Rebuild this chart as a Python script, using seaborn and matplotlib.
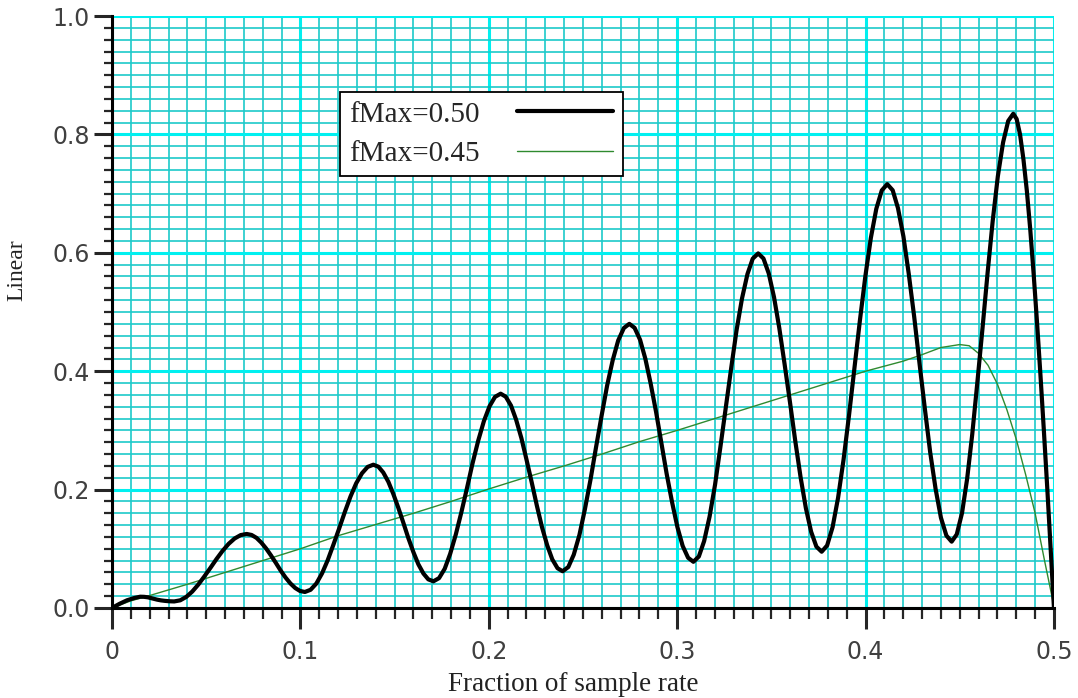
import numpy as np
import pandas as pd
import matplotlib
matplotlib.use('Agg')
import matplotlib.pyplot as plt
from matplotlib.ticker import MultipleLocator, FixedLocator
import seaborn as sns

# fMax=0.50 response (peaks, troughs and points between them)
black_x = [0, 0.002, 0.004, 0.006, 0.008, 0.010, 0.012, 0.0135, 0.015, 0.017, 0.019, 0.0215, 0.024, 0.026, 0.028, 0.0305,
           0.0330, 0.0362, 0.0394, 0.0426, 0.0458, 0.0490, 0.0523, 0.0555, 0.0587, 0.0619, 0.0651, 0.0683, 0.0715,
           0.0741, 0.0767, 0.0792, 0.0818, 0.0844, 0.0870, 0.0895, 0.0921, 0.0947, 0.0973, 0.0998, 0.1024,
           0.1054, 0.1085, 0.1115, 0.1145, 0.1175, 0.1206, 0.1236, 0.1266, 0.1296, 0.1327, 0.1357, 0.1387,
           0.1414, 0.1440, 0.1467, 0.1493, 0.1520, 0.1547, 0.1573, 0.1600, 0.1626, 0.1653, 0.1679, 0.1706,
           0.1736, 0.1766, 0.1795, 0.1825, 0.1855, 0.1885, 0.1914, 0.1944, 0.1974, 0.2004, 0.2033, 0.2063,
           0.2090, 0.2118, 0.2145, 0.2173, 0.2200, 0.2228, 0.2255, 0.2282, 0.2310, 0.2337, 0.2365, 0.2392,
           0.2422, 0.2451, 0.2481, 0.2510, 0.2540, 0.2569, 0.2599, 0.2628, 0.2658, 0.2687, 0.2717, 0.2746,
           0.2774, 0.2803, 0.2831, 0.2859, 0.2888, 0.2916, 0.2944, 0.2973, 0.3001, 0.3029, 0.3058, 0.3086,
           0.3115, 0.3143, 0.3172, 0.3201, 0.3229, 0.3258, 0.3287, 0.3315, 0.3344, 0.3373, 0.3401, 0.3430,
           0.3458, 0.3486, 0.3514, 0.3542, 0.3570, 0.3599, 0.3627, 0.3655, 0.3683, 0.3711, 0.3739, 0.3767,
           0.3796, 0.3825, 0.3854, 0.3883, 0.3912, 0.3941, 0.3970, 0.3999, 0.4028, 0.4057, 0.4086, 0.4115,
           0.4144, 0.4172, 0.4201, 0.4229, 0.4258, 0.4286, 0.4315, 0.4343, 0.4372, 0.4400, 0.4429, 0.4457,
           0.4484, 0.4512, 0.4539, 0.4566, 0.4593, 0.4621, 0.4648, 0.4675, 0.4702, 0.4730, 0.4757, 0.4784,
           0.4802, 0.4820, 0.4838, 0.4856, 0.4874, 0.4892, 0.4910, 0.4928, 0.4946, 0.4964, 0.4982, 0.5000]
black_y = [0, 0.0035, 0.007, 0.010, 0.013, 0.015, 0.017, 0.018, 0.019, 0.0188, 0.018, 0.016, 0.014, 0.0128, 0.012, 0.0113,
           0.011, 0.0129, 0.0186, 0.0277, 0.0395, 0.0532, 0.068, 0.0828, 0.0965, 0.1083, 0.1174, 0.1231, 0.125,
           0.1233, 0.1184, 0.1106, 0.1005, 0.0887, 0.076, 0.0633, 0.0515, 0.0414, 0.0336, 0.0287, 0.027,
           0.0307, 0.0414, 0.0585, 0.0807, 0.1067, 0.1345, 0.1623, 0.1883, 0.2105, 0.2276, 0.2383, 0.242,
           0.2387, 0.2288, 0.2131, 0.1928, 0.169, 0.1435, 0.118, 0.0942, 0.0739, 0.0582, 0.0483, 0.045,
           0.0504, 0.0662, 0.0914, 0.1242, 0.1624, 0.2035, 0.2446, 0.2828, 0.3156, 0.3408, 0.3566, 0.362,
           0.3569, 0.3419, 0.3181, 0.287, 0.2509, 0.212, 0.1731, 0.137, 0.1059, 0.0821, 0.0671, 0.062,
           0.0691, 0.090, 0.1232, 0.1665, 0.2169, 0.271, 0.3251, 0.3755, 0.4188, 0.452, 0.4729, 0.480,
           0.4732, 0.4531, 0.4211, 0.3795, 0.3311, 0.279, 0.2269, 0.1785, 0.1369, 0.1049, 0.0848, 0.078,
           0.0869, 0.1129, 0.1543, 0.2082, 0.271, 0.3385, 0.406, 0.4688, 0.5227, 0.5641, 0.5901, 0.599,
           0.5904, 0.5652, 0.5252, 0.473, 0.4123, 0.347, 0.2817, 0.221, 0.1688, 0.1288, 0.1036, 0.095,
           0.1056, 0.1366, 0.186, 0.2502, 0.3251, 0.4055, 0.4859, 0.5608, 0.625, 0.6744, 0.7054, 0.716,
           0.7057, 0.6755, 0.6275, 0.565, 0.4922, 0.414, 0.3358, 0.263, 0.2005, 0.1525, 0.1223, 0.112,
           0.1243, 0.1604, 0.2179, 0.2927, 0.3799, 0.4735, 0.5671, 0.6543, 0.7291, 0.7866, 0.8227, 0.835,
           0.826, 0.800, 0.758, 0.705, 0.640, 0.565, 0.483, 0.395, 0.302, 0.205, 0.104, 0.0]

# fMax=0.45 response
green_x = [0, 0.01, 0.02, 0.04, 0.06, 0.08, 0.10, 0.12, 0.14, 0.16, 0.18, 0.20,
           0.22, 0.24, 0.26, 0.28, 0.30, 0.32, 0.34, 0.36, 0.38, 0.40, 0.42,
           0.43, 0.44, 0.45, 0.455, 0.46, 0.465, 0.47, 0.475, 0.48, 0.485,
           0.49, 0.495, 0.5]
green_y = [0, 0.012, 0.021, 0.040, 0.060, 0.080, 0.100, 0.122, 0.141, 0.160, 0.180, 0.201,
           0.221, 0.240, 0.260, 0.281, 0.300, 0.320, 0.340, 0.360, 0.380, 0.400, 0.417,
           0.428, 0.440, 0.445, 0.443, 0.430, 0.410, 0.378, 0.335, 0.285, 0.225,
           0.160, 0.080, 0.003]

labels = ['fMax=0.50', 'fMax=0.45']
xtick_vals = [0, 0.1, 0.2, 0.3, 0.4, 0.5]
xtick_labels = ['0', '0.1', '0.2', '0.3', '0.4', '0.5']
ytick_vals = [0.0, 0.2, 0.4, 0.6, 0.8, 1.0]
ytick_labels = ['0.0', '0.2', '0.4', '0.6', '0.8', '1.0']

black = pd.DataFrame({'x': black_x, 'y': black_y})
green = pd.DataFrame({'x': green_x, 'y': green_y})

sns.set_style('white')
plt.rcParams['font.family'] = ['DejaVu Sans']

fig = plt.figure(figsize=(10.78, 6.98), dpi=100)
ax = fig.add_axes([0.1039, 0.129, 0.8738, 0.848])

sns.lineplot(data=black, x='x', y='y', sort=False, color='black', lw=3.0,
             label=labels[0], ax=ax, solid_joinstyle='round', zorder=4)
sns.lineplot(data=green, x='x', y='y', sort=False, color='#2f8a2f', lw=1.0,
             label=labels[1], ax=ax, zorder=3)

ax.set_xlim(0, 0.5)
ax.set_ylim(0, 1.0)
ax.xaxis.set_major_locator(FixedLocator(xtick_vals))
ax.yaxis.set_major_locator(FixedLocator(ytick_vals))
ax.set_xticklabels(xtick_labels)
ax.set_yticklabels(ytick_labels)
ax.xaxis.set_minor_locator(MultipleLocator(0.01))
ax.yaxis.set_minor_locator(MultipleLocator(0.02))

ax.set_axisbelow(True)
ax.grid(which='major', color='#00f0f0', lw=2.2)
ax.grid(which='minor', color='#1ccaca', lw=1.2)

for s in ['top', 'right']:
    ax.spines[s].set_visible(False)
for s in ['left', 'bottom']:
    ax.spines[s].set_color('black')
    ax.spines[s].set_linewidth(2.2)

ax.tick_params(axis='x', which='major', direction='out', length=15, width=2.2,
               pad=8, labelsize=17, labelcolor='#404040', bottom=True)
ax.tick_params(axis='x', which='minor', direction='out', length=8, width=1.6, bottom=True)
ax.tick_params(axis='y', which='major', direction='out', length=13, width=2.2,
               pad=3, labelsize=17, labelcolor='#404040', left=True)
ax.tick_params(axis='y', which='minor', direction='out', length=5.5, width=1.6, left=True)

ax.set_xlabel('Fraction of sample rate', family='Liberation Serif', fontsize=19.5, color='#222222')
ax.set_ylabel('Linear', family='Liberation Serif', fontsize=17, color='#222222')
ax.xaxis.set_label_coords(0.49, -0.108)
ax.yaxis.set_label_coords(-0.09, 0.57)

leg = ax.legend(loc='upper left', bbox_to_anchor=(0.242, 0.872), borderaxespad=0,
                markerfirst=False, handlelength=3.3, handletextpad=1.27,
                labelspacing=0.45, borderpad=0.32, fancybox=False, framealpha=1,
                edgecolor='black', prop={'family': 'Liberation Serif', 'size': 21})
leg.get_frame().set_linewidth(1.3)

fig.savefig('out.png', dpi=100)
